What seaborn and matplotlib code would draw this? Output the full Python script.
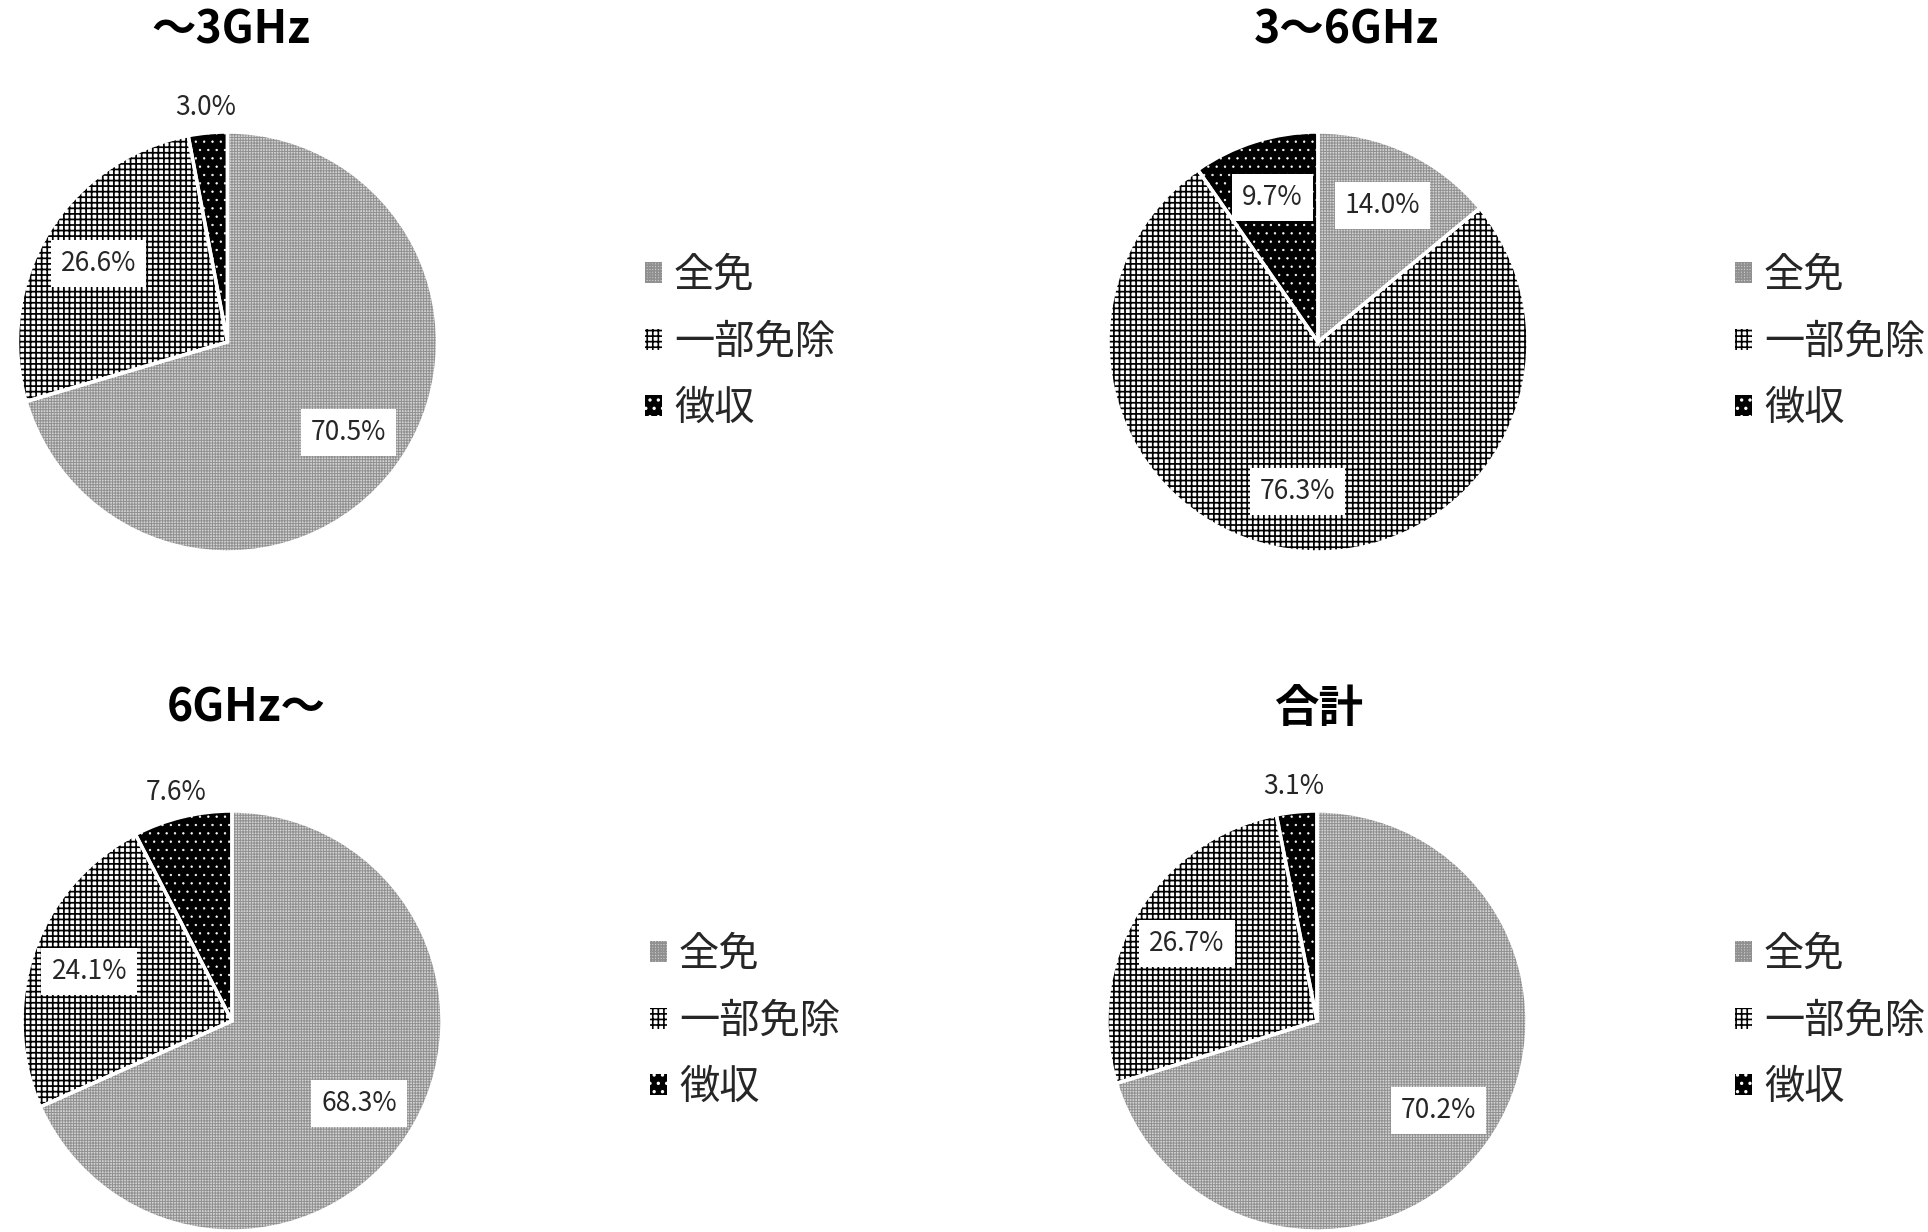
import numpy as np
import pandas as pd
import matplotlib
matplotlib.use('Agg')
import matplotlib.pyplot as plt
import matplotlib.patches as mpatches
import seaborn as sns

# ---------------- data ----------------
categories = ['全免', '一部免除', '徴収']
titles = ['～3GHz', '3～6GHz', '6GHz～', '合計']
share_upto3 = [70.5, 26.6, 3.0]
share_3to6 = [14.0, 76.3, 9.7]
share_over6 = [68.3, 24.1, 7.6]
share_total = [70.2, 26.7, 3.1]

df = pd.DataFrame({
    'category': categories * 4,
    'band': np.repeat(titles, 3),
    'share': share_upto3 + share_3to6 + share_over6 + share_total,
})

# ---------------- style ----------------
sns.set_theme(style='white')
plt.rcParams['font.family'] = ['Noto Sans CJK JP', 'DejaVu Sans']
plt.rcParams['hatch.linewidth'] = 1.2

styles = [
    dict(facecolor='#d2d2d2', hatch='++++++', hatchcolor='#909090', hlw=0.7),
    dict(facecolor='white', hatch='+++', hatchcolor='black', hlw=1.25),
    dict(facecolor='black', hatch='..', hatchcolor='white', hlw=0.45),
]

W, H = 1928, 1232
fig = plt.figure(figsize=(W / 100, H / 100), dpi=100)
fig.patch.set_facecolor('white')

# layout (pixels)
centers = [(227.5, 342), (1318, 342), (232, 1021), (1317, 1021)]
R = 210
title_pos = [(231, 31), (1346, 31), (246, 709), (1319, 709)]
legend_x = [645, 1735, 650, 1735]


def style_patch(p, st):
    p.set_facecolor(st['facecolor'])
    p.set_edgecolor(st['hatchcolor'])
    p.set_hatch(st['hatch'])
    p.set_linewidth(0)
    if hasattr(p, 'set_hatch_linewidth'):
        p.set_hatch_linewidth(st['hlw'])


for i, title in enumerate(titles):
    sub = df[df['band'] == title]
    vals = sub['share'].tolist()
    cx, cy = centers[i]
    ax = fig.add_axes([(cx - R) / W, 1 - (cy + R) / H, 2 * R / W, 2 * R / H])
    wedges, _ = ax.pie(vals, startangle=90, counterclock=False, radius=1)
    for w, st in zip(wedges, styles):
        style_patch(w, st)
    ax.pie(vals, startangle=90, counterclock=False, radius=1,
           wedgeprops=dict(fill=False, edgecolor='white', linewidth=2.5))
    ax.set_xlim(-1, 1)
    ax.set_ylim(-1, 1)
    ax.set_aspect('equal')
    ax.axis('off')

    for w, v in zip(wedges, vals):
        ang = np.deg2rad((w.theta1 + w.theta2) / 2)
        if v < 8:
            d, bbox = 1.12, None
        else:
            d = 0.72
            bbox = dict(boxstyle='square,pad=0.38', facecolor='white', edgecolor='none')
        ax.text(d * np.cos(ang), d * np.sin(ang), f'{v:.1f}%', ha='center', va='center',
                fontsize=19, color='#262626', bbox=bbox, zorder=5)

    tx, ty = title_pos[i]
    fig.text(tx / W, 1 - ty / H, title, ha='center', va='center',
             fontsize=32, fontweight='bold', color='black')

    handles = []
    for c, st in zip(categories, styles):
        hp = mpatches.Patch(facecolor=st['facecolor'], edgecolor=st['hatchcolor'],
                            hatch=st['hatch'], linewidth=0, label=c)
        if hasattr(hp, 'set_hatch_linewidth'):
            hp.set_hatch_linewidth(st['hlw'])
        handles.append(hp)
    fig.legend(handles=handles, loc='center left',
               bbox_to_anchor=(legend_x[i] / W, 1 - cy / H),
               frameon=False, fontsize=29, handlelength=0.42, handleheight=0.42,
               handletextpad=0.3, labelspacing=0.64, borderpad=0, borderaxespad=0)

fig.savefig('out.png', dpi=100, facecolor='white')
